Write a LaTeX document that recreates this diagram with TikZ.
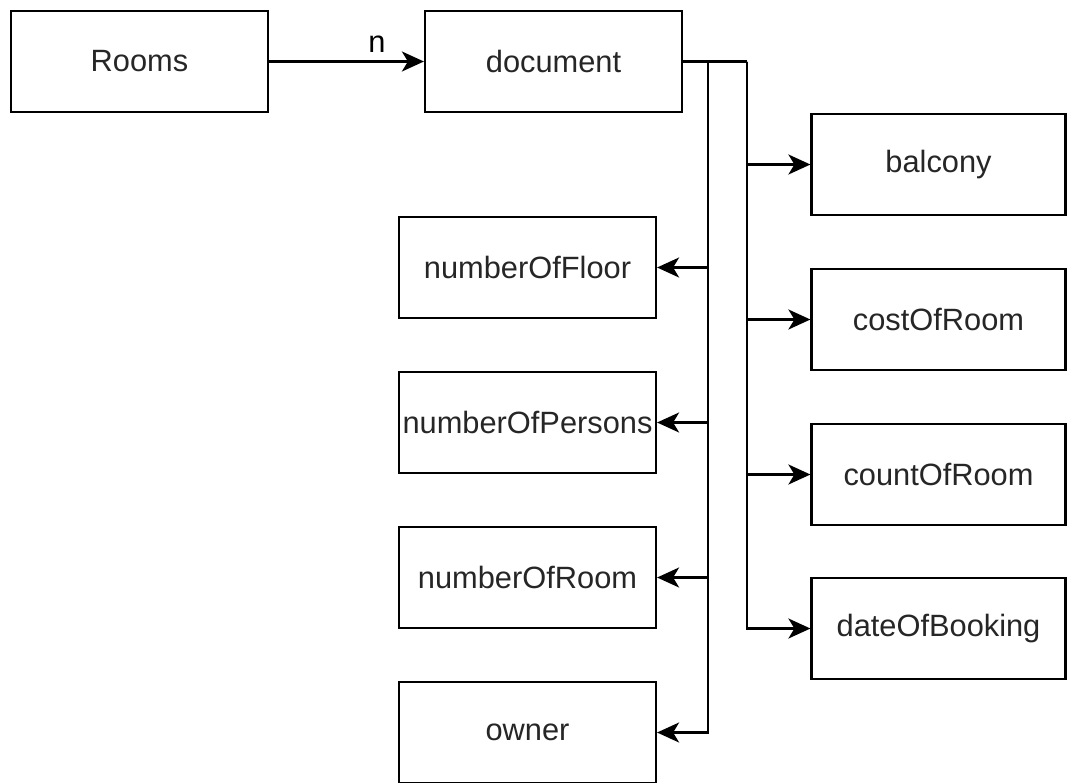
\documentclass[tikz,border=0pt]{standalone}
\usepackage{fontspec}
\setmainfont{Liberation Sans}
\usetikzlibrary{arrows.meta}
\begin{document}
\begin{tikzpicture}[x=1pt,y=-1pt,
  box/.style={draw=black,line width=2.2pt,fill=white,inner sep=0pt,
    minimum width=257pt,minimum height=101pt,
    font=\fontsize{30.8}{36}\selectfont,text=black!85},
  link/.style={draw=black,line width=2.2pt,
    -{Stealth[length=22pt,width=20pt,inset=6pt]}},
  wire/.style={draw=black,line width=2.2pt}]
\useasboundingbox (0,0) rectangle (1067,782);
\fill[white] (0,0) rectangle (1067,782);

% top row
\node[box] (rooms) at (139.5,61.5) {Rooms};
\node[box] (doc) at (553.5,61.5) {document};

% right column
\node[box,minimum width=254pt] (balcony) at (938.5,164.5) {balcony};
\node[box,minimum width=254pt] (cost) at (938.5,319.5) {costOfRoom};
\node[box,minimum width=254pt] (count) at (938.5,474.5) {countOfRoom};
\node[box,minimum width=254pt] (date) at (938.5,628.5) {dateOfBooking};

% left column
\node[box] (floor) at (527.5,267.5) {numberOfFloor};
\node[box] (persons) at (527.5,422.5) {numberOfPersons};
\node[box] (roomno) at (527.5,577.5) {numberOfRoom};
\node[box] (owner) at (527.5,732.5) {owner};

% Rooms -> document
\draw[link] (rooms.east) -- (doc.west);
\node[font=\fontsize{30.8}{36}\selectfont] (n) at (377,44) {n};

% trunks leaving document
\coordinate (jl) at (708,61.5);
\coordinate (jr) at (747,61.5);
\draw[wire] (doc.east) -- (jr);
\draw[link] (jl) |- (floor.east);
\draw[link] (jl) |- (persons.east);
\draw[link] (jl) |- (roomno.east);
\draw[link] (jl) |- (owner.east);
\draw[link] (jr) |- (balcony.west);
\draw[link] (jr) |- (cost.west);
\draw[link] (jr) |- (count.west);
\draw[link] (jr) |- (date.west);
\end{tikzpicture}
\end{document}
